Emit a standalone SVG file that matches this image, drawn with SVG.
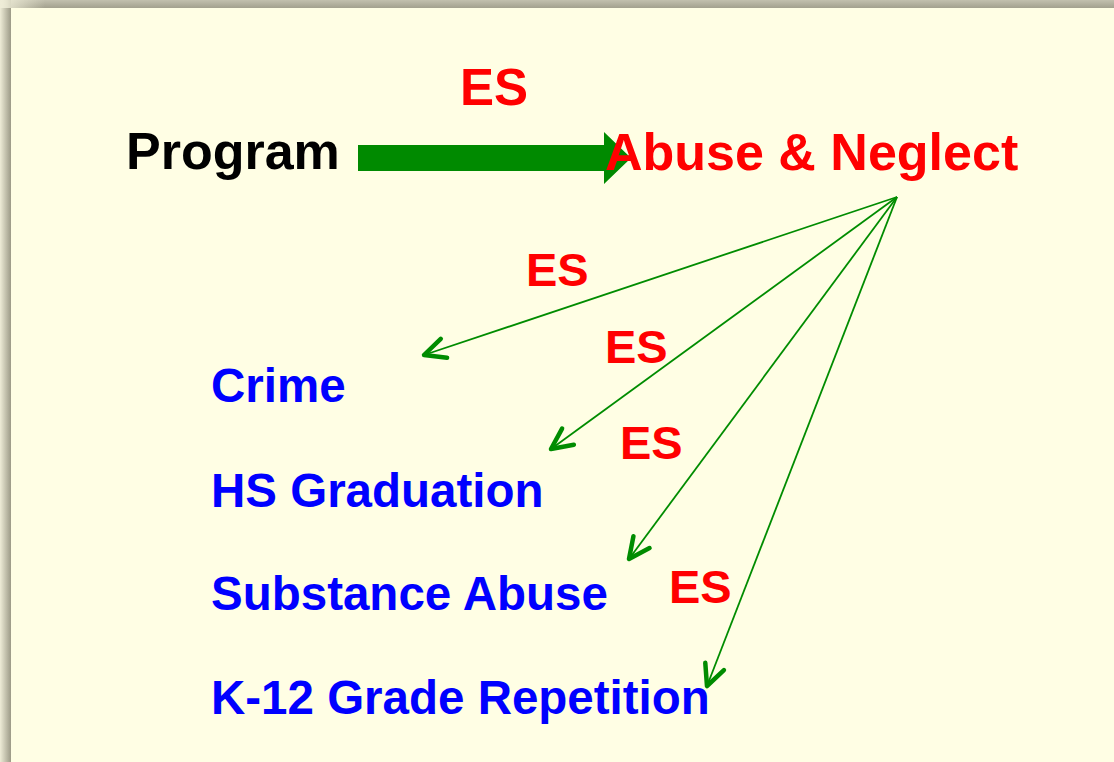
<svg xmlns="http://www.w3.org/2000/svg" width="1114" height="762" viewBox="0 0 1114 762">
  <defs>
    <linearGradient id="shadeTop" x1="0" y1="0" x2="0" y2="1">
      <stop offset="0" stop-color="#C2C0AE"/>
      <stop offset="1" stop-color="#A3A18E"/>
    </linearGradient>
    <linearGradient id="shadeLeft" x1="0" y1="0" x2="1" y2="0">
      <stop offset="0" stop-color="#EEECD7"/>
      <stop offset="1" stop-color="#9C9A87"/>
    </linearGradient>
    <linearGradient id="cornerFade" x1="0" y1="0" x2="1" y2="0">
      <stop offset="0" stop-color="#EEECD7" stop-opacity="1"/>
      <stop offset="1" stop-color="#EEECD7" stop-opacity="0"/>
    </linearGradient>
    <marker id="openHead" markerUnits="userSpaceOnUse" markerWidth="32" markerHeight="32" viewBox="-26 -16 32 32" refX="0" refY="0" orient="auto">
      <path d="M -21 -10 L 0 0 L -21 10" fill="none" stroke="#008C00" stroke-width="4.5" stroke-linecap="round" stroke-linejoin="round"/>
    </marker>
    <style>
      text { font-family: "Liberation Sans", Arial, sans-serif; font-weight: bold; }
      .src { font-size: 52px; fill: #000000; }
      .mid { font-size: 52px; fill: #FF0000; }
      .es { font-size: 47px; fill: #FF0000; }
      .esTop { font-size: 51px; fill: #FF0000; }
      .out { font-size: 47.5px; fill: #0000FF; }
      .link { stroke: #008C00; stroke-width: 1.8; fill: none; marker-end: url(#openHead); }
    </style>
  </defs>

  <!-- page and its drop shadow -->
  <rect x="0" y="0" width="1114" height="762" fill="#FFFEE4"/>
  <rect x="0" y="0" width="1114" height="8" fill="url(#shadeTop)"/>
  <rect x="0" y="0" width="11" height="762" fill="url(#shadeLeft)"/>
  <rect x="0" y="0" width="45" height="8" fill="url(#cornerFade)"/>

  <!-- connectors -->
  <g id="connectors">
    <polygon id="main-arrow" points="358,145 604,145 604,132 631,158 604,184 604,171 358,171" fill="#008A00"/>
    <line class="link" x1="897" y1="197" x2="424" y2="355"/>
    <line class="link" x1="897" y1="197" x2="551" y2="449"/>
    <line class="link" x1="897" y1="197" x2="629" y2="559"/>
    <line class="link" x1="897" y1="197" x2="707" y2="686"/>
  </g>

  <!-- effect size labels -->
  <g id="labels">
    <text class="esTop" x="460" y="105">ES</text>
    <text class="es" x="526" y="286">ES</text>
    <text class="es" x="605" y="363">ES</text>
    <text class="es" x="620" y="459">ES</text>
    <text class="es" x="669" y="603">ES</text>
  </g>

  <g id="node-program">
    <text class="src" x="126" y="169">Program</text>
  </g>
  <g id="node-abuse">
    <text class="mid" x="605" y="170">Abuse &amp; Neglect</text>
  </g>
  <g id="node-crime">
    <text class="out" x="211" y="402">Crime</text>
  </g>
  <g id="node-hs">
    <text class="out" x="211" y="507">HS Graduation</text>
  </g>
  <g id="node-substance">
    <text class="out" x="211" y="610">Substance Abuse</text>
  </g>
  <g id="node-k12">
    <text class="out" x="211" y="714">K-12 Grade Repetition</text>
  </g>
</svg>
